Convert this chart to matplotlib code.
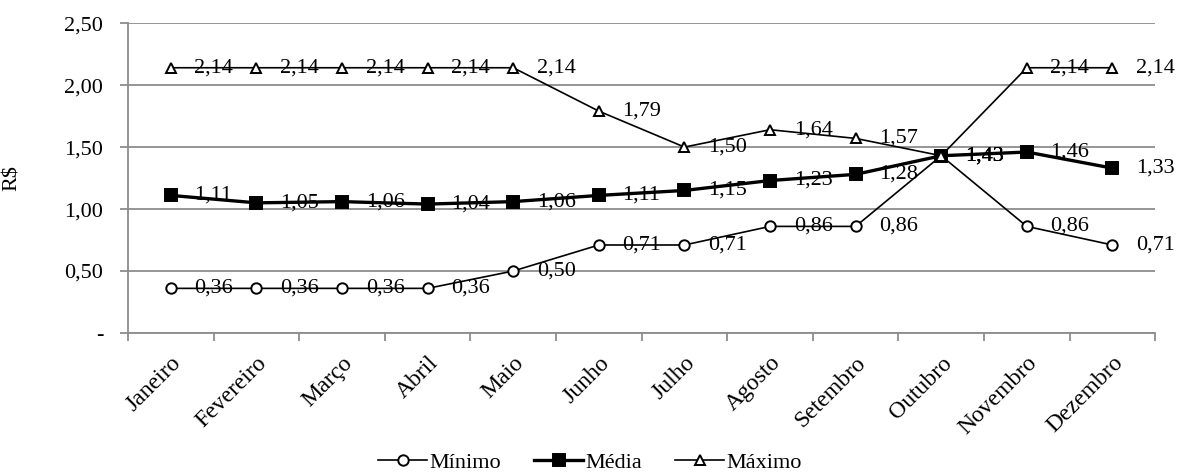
import numpy as np
import matplotlib.pyplot as plt
from matplotlib.ticker import FixedLocator, FuncFormatter

plt.rcParams['font.family'] = ['Liberation Serif', 'DejaVu Serif']

meses = ["Janeiro", "Fevereiro", "Março", "Abril", "Maio", "Junho",
         "Julho", "Agosto", "Setembro", "Outubro", "Novembro", "Dezembro"]
minimo = [0.36, 0.36, 0.36, 0.36, 0.50, 0.71, 0.71, 0.86, 0.86, 1.43, 0.86, 0.71]
media = [1.11, 1.05, 1.06, 1.04, 1.06, 1.11, 1.15, 1.23, 1.28, 1.43, 1.46, 1.33]
maximo = [2.14, 2.14, 2.14, 2.14, 2.14, 1.79, 1.50, 1.64, 1.57, 1.43, 2.14, 2.14]

fs = 16
grey = "#8c8c8c"

fig = plt.figure(figsize=(11.8, 4.72), dpi=100)
ax = fig.add_axes([0.1085, 0.2945, 0.8705, 0.6565])

x = np.arange(len(meses))

series = [
    ("Mínimo", minimo, dict(marker="o", markersize=7.5, markerfacecolor="white", lw=1.2)),
    ("Média", media, dict(marker="s", markersize=8, markerfacecolor="black", lw=2.4)),
    ("Máximo", maximo, dict(marker="^", markersize=7.5, markerfacecolor="white", lw=1.2)),
]

for nome, vals, st in series:
    ax.plot(x, vals, color="black", markeredgecolor="black", markeredgewidth=1.4,
            label=nome, zorder=3, **st)
    for xi, v in zip(x, vals):
        ax.annotate(f"{v:.2f}".replace(".", ","), (xi, v), xytext=(17, 0),
                    textcoords="offset points", va="center", ha="left",
                    fontsize=fs, color="black", zorder=4)

ax.set_xlim(-0.5, 11.5)
ax.set_ylim(0, 2.5)

# gridlines and axes
ax.set_yticks(np.arange(0, 2.51, 0.5))
ax.yaxis.set_major_formatter(FuncFormatter(lambda v, p: "-" if v == 0 else f"{v:.2f}".replace(".", ",")))
ax.yaxis.grid(True, color=grey, lw=1.3)
ax.set_axisbelow(True)

ax.set_xticks(x)
ax.set_xticklabels(meses, rotation=45, ha="right", rotation_mode="anchor")
ax.xaxis.set_minor_locator(FixedLocator(np.arange(-0.5, 12, 1)))
ax.tick_params(axis="x", which="major", length=0, pad=14, labelsize=17)
ax.tick_params(axis="x", which="minor", length=6, width=1.3, color=grey, direction="out")
ax.tick_params(axis="y", length=6, width=1.3, color=grey, pad=12, labelsize=fs)

for s in ["top", "right"]:
    ax.spines[s].set_visible(False)
for s in ["left", "bottom"]:
    ax.spines[s].set_color(grey)
    ax.spines[s].set_linewidth(1.3)

ax.set_ylabel("R$", fontsize=fs)
ax.yaxis.set_label_coords(-0.103, 0.5)

fig.legend(loc="lower center", bbox_to_anchor=(0.5, -0.045), ncol=3, frameon=False,
           fontsize=fs, handlelength=2.2, handletextpad=0.1, columnspacing=1.5)

fig.savefig("out.png", dpi=100)
